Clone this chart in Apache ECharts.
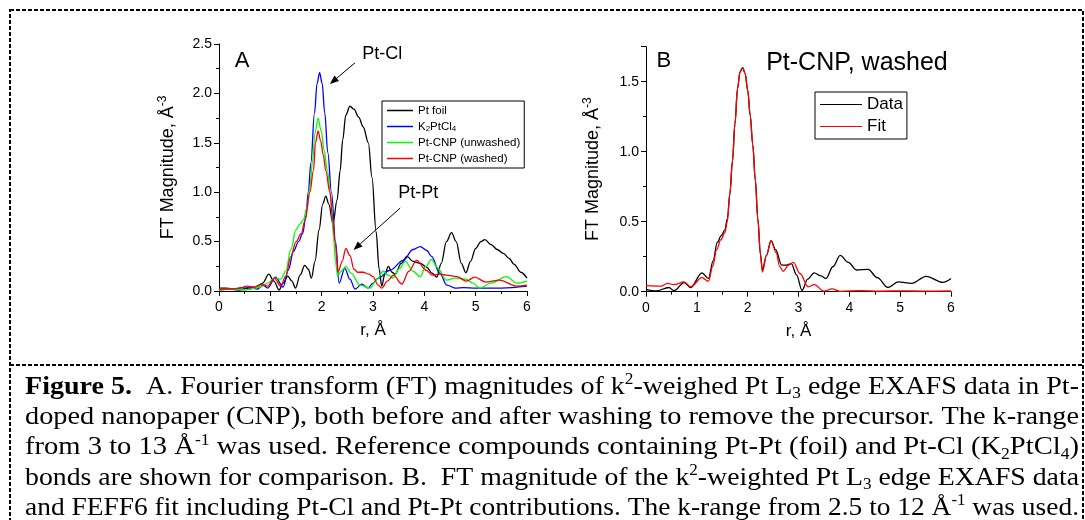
<!DOCTYPE html>
<html><head><meta charset="utf-8">
<script src="https://cdn.jsdelivr.net/npm/echarts@6/dist/echarts.min.js"></script>
<style>html,body{margin:0;padding:0;background:#fff}#c{width:1085px;height:520px}</style>
</head><body><div id="c"></div>
<script>
// ---------- data (r in Å, FT magnitude in Å^-3) ----------
const ptFoil = [[0,0.03],[0.15,0.03],[0.3,0.02],[0.45,0.035],[0.6,0.02],[0.75,0.05],[0.85,0.08],[0.97,0.17],[1.07,0.1],[1.17,0.01],[1.25,0.08],[1.34,0.15],[1.42,0.1],[1.49,0.03],[1.58,0.16],[1.67,0.26],[1.74,0.22],[1.8,0.13],[1.87,0.3],[1.95,0.62],[2.02,0.88],[2.08,0.96],[2.14,0.88],[2.22,0.68],[2.3,0.92],[2.36,1.22],[2.41,1.53],[2.47,1.78],[2.55,1.87],[2.63,1.84],[2.72,1.76],[2.81,1.66],[2.91,1.5],[2.98,1.15],[3.06,0.6],[3.12,0.22],[3.17,0.05],[3.23,0.17],[3.3,0.25],[3.37,0.19],[3.43,0.17],[3.55,0.28],[3.66,0.35],[3.78,0.3],[3.92,0.28],[4.05,0.24],[4.15,0.18],[4.24,0.14],[4.33,0.28],[4.43,0.5],[4.53,0.59],[4.62,0.5],[4.72,0.28],[4.81,0.185],[4.9,0.3],[5.0,0.43],[5.1,0.5],[5.18,0.52],[5.3,0.47],[5.42,0.42],[5.54,0.38],[5.65,0.33],[5.75,0.27],[5.88,0.19],[6,0.13]];
const k2PtCl4 = [[0,0.01],[0.2,0.02],[0.4,0.01],[0.6,0.04],[0.75,0.02],[0.85,0.06],[0.95,0.03],[1.1,0.14],[1.25,0.04],[1.35,0.21],[1.45,0.4],[1.55,0.5],[1.63,0.58],[1.69,0.75],[1.74,1.0],[1.79,1.3],[1.86,1.8],[1.91,2.1],[1.96,2.21],[2.01,2.1],[2.06,1.8],[2.12,1.4],[2.19,1.0],[2.27,0.5],[2.34,0.08],[2.45,0.23],[2.55,0.12],[2.65,0.02],[2.78,0.07],[2.9,0.03],[3.0,0.08],[3.1,0.13],[3.33,0.21],[3.59,0.31],[3.78,0.42],[3.92,0.45],[4.05,0.41],[4.14,0.35],[4.3,0.18],[4.44,0.06],[4.6,0.03],[4.76,0.035],[5.0,0.03],[5.5,0.03],[6,0.05]];
const cnpUnwashed = [[0,0.01],[0.3,0.02],[0.5,0.01],[0.7,0.03],[0.85,0.05],[0.95,0.08],[1.08,0.13],[1.2,0.12],[1.3,0.2],[1.4,0.42],[1.5,0.62],[1.58,0.68],[1.64,0.72],[1.72,0.85],[1.77,1.05],[1.82,1.3],[1.87,1.6],[1.93,1.75],[1.99,1.62],[2.05,1.42],[2.11,1.22],[2.18,0.95],[2.23,0.55],[2.27,0.3],[2.31,0.15],[2.38,0.2],[2.47,0.25],[2.57,0.18],[2.75,0.06],[2.94,0.03],[3.08,0.12],[3.2,0.2],[3.3,0.16],[3.39,0.13],[3.5,0.22],[3.63,0.3],[3.78,0.2],[3.92,0.145],[4.03,0.25],[4.14,0.32],[4.25,0.24],[4.43,0.11],[4.6,0.13],[4.8,0.12],[4.95,0.08],[5.08,0.03],[5.3,0.08],[5.6,0.145],[5.8,0.08],[6,0.1]];
const cnpWashed = [[0,0.02],[0.2,0.02],[0.4,0.03],[0.55,0.05],[0.7,0.04],[0.82,0.07],[0.95,0.05],[1.08,0.13],[1.2,0.05],[1.3,0.15],[1.4,0.35],[1.5,0.5],[1.6,0.58],[1.68,0.72],[1.77,1.0],[1.84,1.22],[1.88,1.5],[1.93,1.62],[1.98,1.52],[2.03,1.38],[2.08,1.22],[2.16,1.0],[2.21,0.75],[2.26,0.5],[2.32,0.195],[2.4,0.3],[2.47,0.43],[2.55,0.36],[2.63,0.22],[2.7,0.19],[2.81,0.19],[2.92,0.17],[3.0,0.145],[3.1,0.06],[3.17,0.03],[3.28,0.1],[3.4,0.16],[3.56,0.07],[3.7,0.2],[3.85,0.31],[4.04,0.21],[4.15,0.16],[4.3,0.17],[4.43,0.16],[4.63,0.145],[4.82,0.1],[4.98,0.14],[5.2,0.09],[5.46,0.11],[5.8,0.05],[6,0.06]];
const washedData = [[0,0.017],[0.2,0.005],[0.45,0.03],[0.55,0.007],[0.75,0.065],[0.88,0.03],[1.1,0.135],[1.23,0.095],[1.32,0.22],[1.4,0.35],[1.48,0.4],[1.55,0.44],[1.6,0.52],[1.65,0.7],[1.7,0.93],[1.75,1.2],[1.8,1.45],[1.85,1.57],[1.9,1.6],[1.95,1.56],[2.0,1.44],[2.05,1.26],[2.1,1.05],[2.15,0.8],[2.2,0.52],[2.25,0.27],[2.29,0.155],[2.37,0.26],[2.46,0.365],[2.55,0.3],[2.67,0.19],[2.76,0.19],[2.86,0.2],[2.96,0.12],[3.07,0.01],[3.18,0.09],[3.31,0.135],[3.43,0.115],[3.54,0.095],[3.68,0.18],[3.82,0.26],[3.98,0.21],[4.14,0.155],[4.37,0.16],[4.55,0.1],[4.76,0.03],[4.96,0.07],[5.23,0.06],[5.51,0.11],[5.84,0.067],[6,0.095]];
const washedFit = [[0,0.043],[0.3,0.04],[0.42,0.06],[0.55,0.05],[0.75,0.07],[0.88,0.035],[1.1,0.1],[1.23,0.075],[1.31,0.18],[1.39,0.3],[1.47,0.37],[1.55,0.42],[1.6,0.5],[1.65,0.7],[1.7,0.93],[1.75,1.2],[1.8,1.45],[1.85,1.57],[1.9,1.6],[1.95,1.56],[2.0,1.44],[2.05,1.26],[2.1,1.05],[2.15,0.8],[2.2,0.52],[2.25,0.27],[2.29,0.14],[2.37,0.26],[2.46,0.365],[2.56,0.28],[2.63,0.18],[2.7,0.145],[2.8,0.19],[2.9,0.21],[3.03,0.13],[3.19,0.035],[3.31,0.05],[3.5,0.004],[3.66,0.02],[3.82,0.003],[4.2,0.008],[4.6,0.004],[5,0.006],[5.5,0.004],[6,0.005]];

const namesA = ['Pt foil', 'K2PtCl4', 'Pt-CNP (unwashed)', 'Pt-CNP (washed)'];
const namesB = ['Data', 'Fit'];
const xName = 'r, Å';
const yNameMain = 'FT Magnitude, Å';
const yNameSup = '-3';

const captionLines = [
  [['b','Figure 5.'],['n','  A. Fourier transform (FT) magnitudes of k'],['sup','2'],['n','-weighed Pt L'],['sub','3'],['n',' edge EXAFS data in Pt-']],
  [['n','doped nanopaper (CNP), both before and after washing to remove the precursor. The k-range']],
  [['n','from 3 to 13 Å'],['sup','-1'],['n',' was used. Reference compounds containing Pt-Pt (foil) and Pt-Cl (K'],['sub','2'],['n','PtCl'],['sub','4'],['n',')']],
  [['n','bonds are shown for comparison. B.  FT magnitude of the k'],['sup','2'],['n','-weighted Pt L'],['sub','3'],['n',' edge EXAFS data']],
  [['n','and FEFF6 fit including Pt-Cl and Pt-Pt contributions. The k-range from 2.5 to 12 Å'],['sup','-1'],['n',' was used.']]
];

// ---------- styling ----------
const SANS = '"Liberation Sans", Arial, sans-serif';
const SERIF = '"Liberation Serif", "Times New Roman", serif';

function xAx(gi) {
  return {
    type: 'value', gridIndex: gi, min: 0, max: 6, interval: 1,
    name: xName, nameLocation: 'middle', nameGap: 31,
    nameTextStyle: { fontFamily: SANS, fontSize: 17, color: '#000' },
    axisLine: { show: true, onZero: false, lineStyle: { color: '#000', width: 1 } },
    axisTick: { show: true, inside: false, length: 5, lineStyle: { color: '#000' } },
    minorTick: { show: true, splitNumber: 2, length: 3, lineStyle: { color: '#000' } },
    axisLabel: { fontFamily: SANS, fontSize: 14, color: '#000', margin: 9 },
    splitLine: { show: false }, minorSplitLine: { show: false }
  };
}
function yAx(gi, max, gap) {
  return {
    type: 'value', gridIndex: gi, min: 0, max: max, interval: 0.5,
    name: '{m|' + yNameMain + '}{s|' + yNameSup + '}',
    nameLocation: 'middle', nameRotate: 90, nameGap: gap,
    nameTextStyle: {
      color: '#000',
      rich: {
        m: { fontFamily: SANS, fontSize: 18, lineHeight: 22, color: '#000' },
        s: { fontFamily: SANS, fontSize: 12, lineHeight: 12, verticalAlign: 'top', color: '#000' }
      }
    },
    axisLine: { show: true, onZero: false, lineStyle: { color: '#000', width: 1 } },
    axisTick: { show: true, inside: false, length: 5, lineStyle: { color: '#000' } },
    minorTick: { show: true, splitNumber: 2, length: 3, lineStyle: { color: '#000' } },
    axisLabel: {
      fontFamily: SANS, fontSize: 14, color: '#000', margin: 7,
      formatter: v => (Math.abs(Math.round(v * 100) % 50) === 0 ? v.toFixed(1) : '')
    },
    splitLine: { show: false }, minorSplitLine: { show: false }
  };
}
function line(name, data, color, gi) {
  return {
    type: 'line', name: name, data: data, xAxisIndex: gi, yAxisIndex: gi,
    symbol: 'none', smooth: 0.35, smoothMonotone: 'x',
    lineStyle: { color: color, width: 1.3 }, itemStyle: { color: color }
  };
}

const chart = echarts.init(document.getElementById('c'), null, { renderer: 'canvas' });

chart.setOption({
  animation: false,
  backgroundColor: '#fff',
  grid: [
    { left: 219, top: 44, width: 308, height: 247 },
    { left: 646, top: 46.7, width: 305, height: 245 }
  ],
  xAxis: [xAx(0), xAx(1)],
  yAxis: [yAx(0, 2.5, 40), yAx(1, 1.75, 42)],
  legend: [
    {
      data: namesA, orient: 'vertical', left: 382, top: 101, icon: 'rect',
      padding: [3, 4, 3, 5], itemGap: 3, itemWidth: 26, itemHeight: 1.5,
      borderColor: '#000', borderWidth: 1, borderRadius: 0, backgroundColor: '#fff',
      formatter: n => n === 'K2PtCl4' ? '{n|K}{s|2}{n|PtCl}{s|4}' : n,
      textStyle: {
        fontFamily: SANS, fontSize: 11.5, lineHeight: 13, color: '#000',
        rich: {
          n: { fontFamily: SANS, fontSize: 11.5, lineHeight: 13, color: '#000' },
          s: { fontFamily: SANS, fontSize: 8, lineHeight: 6, verticalAlign: 'bottom', color: '#000' }
        }
      }
    },
    {
      data: namesB, orient: 'vertical', left: 815, top: 92, icon: 'rect',
      padding: [3, 4, 3, 5], itemGap: 3, itemWidth: 42, itemHeight: 1.2,
      borderColor: '#000', borderWidth: 1, borderRadius: 0, backgroundColor: '#fff',
      textStyle: { fontFamily: SANS, fontSize: 17, lineHeight: 19, color: '#000' }
    }
  ],
  series: [
    line(namesA[0], ptFoil, '#000000', 0),
    line(namesA[1], k2PtCl4, '#0000ff', 0),
    line(namesA[2], cnpUnwashed, '#00ff00', 0),
    line(namesA[3], cnpWashed, '#ff0000', 0),
    line(namesB[0], washedData, '#000000', 1),
    line(namesB[1], washedFit, '#ff0000', 1)
  ]
});

// ---------- annotations ----------
function px(gi, r, v) { return chart.convertToPixel({ gridIndex: gi }, [r, v]); }
function arrow(p1, p2) {
  const dx = p2[0] - p1[0], dy = p2[1] - p1[1];
  const L = Math.hypot(dx, dy), ux = dx / L, uy = dy / L;
  const hl = 9, hw = 3.5;
  const bx = p2[0] - ux * hl, by = p2[1] - uy * hl;
  return [
    { type: 'line', shape: { x1: p1[0], y1: p1[1], x2: bx, y2: by }, style: { stroke: '#000', lineWidth: 1 } },
    { type: 'polygon', shape: { points: [[p2[0], p2[1]], [bx - uy * hw, by + ux * hw], [bx + uy * hw, by - ux * hw]] }, style: { fill: '#000' } }
  ];
}
function label(p, text, size) {
  return { type: 'text', x: p[0], y: p[1], style: { text: text, fontFamily: SANS, fontSize: size, fill: '#000', align: 'center', verticalAlign: 'middle' } };
}

// caption (rich text lines, fitted to the justified width)
const capRich = {
  n: { fontFamily: SERIF, fontSize: 26, lineHeight: 30, fill: '#000' },
  b: { fontFamily: SERIF, fontSize: 26, lineHeight: 30, fontWeight: 'bold', fill: '#000' },
  sup: { fontFamily: SERIF, fontSize: 16, lineHeight: 16, verticalAlign: 'top', fill: '#000' },
  sub: { fontFamily: SERIF, fontSize: 16, lineHeight: 14, verticalAlign: 'bottom', fill: '#000' }
};
const mctx = document.createElement('canvas').getContext('2d');
function segWidth(k, t) {
  const st = capRich[k];
  mctx.font = (st.fontWeight ? 'bold ' : '') + st.fontSize + 'px ' + SERIF;
  return mctx.measureText(t).width;
}
const capLeft = 25, capRight = 1079, capTop = 387, capStep = 30.3;
const capEls = captionLines.map((segs, i) => {
  const w = segs.reduce((a, s) => a + segWidth(s[0], s[1]), 0);
  return {
    type: 'text', x: capLeft, y: capTop + i * capStep, scaleX: (capRight - capLeft) / w,
    style: { text: segs.map(s => '{' + s[0] + '|' + s[1] + '}').join(''), rich: capRich, align: 'left', verticalAlign: 'middle', fill: '#000' }
  };
});

const elements = [
  { type: 'rect', shape: { x: 10, y: 10, width: 1073, height: 530 }, style: { fill: 'none', stroke: '#000', lineWidth: 2, lineDash: [4, 2] }, z: -1 },
  { type: 'line', shape: { x1: 10, y1: 365, x2: 1083, y2: 365 }, style: { stroke: '#000', lineWidth: 2, lineDash: [4, 2] } },
  label(px(0, 0.45, 2.33), 'A', 22),
  label(px(0, 3.18, 2.40), 'Pt-Cl', 18),
  label(px(0, 3.88, 0.99), 'Pt-Pt', 18),
  label(px(1, 0.35, 1.648), 'B', 22),
  label(px(1, 4.15, 1.634), 'Pt-CNP, washed', 25),
  ...arrow(px(0, 2.65, 2.31), px(0, 2.16, 2.095)),
  ...arrow(px(0, 3.53, 0.84), px(0, 2.62, 0.415)),
  ...capEls
];
chart.setOption({ graphic: { elements: elements } });
</script>
</body></html>
